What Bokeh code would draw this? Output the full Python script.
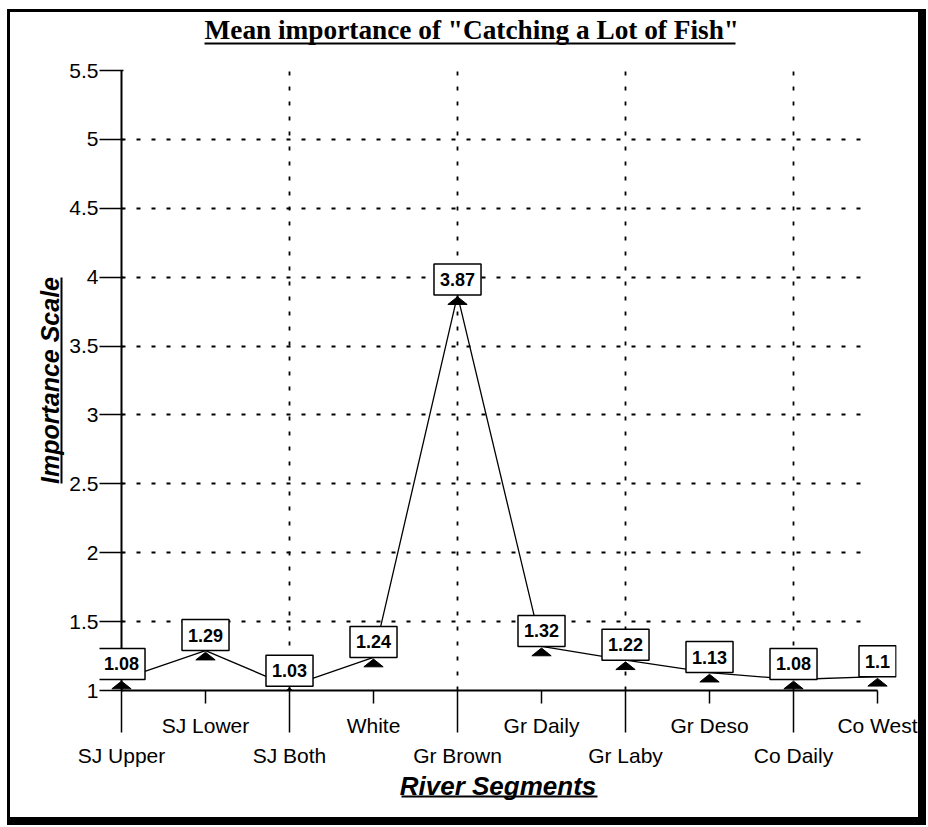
from bokeh.plotting import figure
from bokeh.models import (ColumnDataSource, FixedTicker, LinearAxis, Range1d,
                          Label, Grid, Span)
from bokeh.embed import file_html
from bokeh.resources import INLINE

# ---- data ----
segments = ["SJ Upper", "SJ Lower", "SJ Both", "White", "Gr Brown",
            "Gr Daily", "Gr Laby", "Gr Deso", "Co Daily", "Co West"]
importance = [1.08, 1.29, 1.03, 1.24, 3.87, 1.32, 1.22, 1.13, 1.08, 1.1]
y_ticks = [1, 1.5, 2, 2.5, 3, 3.5, 4, 4.5, 5, 5.5]
y_tick_labels = ["1", "1.5", "2", "2.5", "3", "3.5", "4", "4.5", "5", "5.5"]
title_text = 'Mean importance of "Catching a Lot of Fish"'
x_title = "River Segments"
y_title = "Importance Scale"

xpos = list(range(len(segments)))
labels = [f"{v:g}" for v in importance]

SANS = "Liberation Sans"
SERIF = "Liberation Serif"

p = figure(width=919, height=816,
           x_range=Range1d(-0.2619, 9.226), y_range=Range1d(1, 5.5),
           x_axis_type=None, y_axis_type=None,
           min_border_left=89, min_border_right=33,
           min_border_top=58, min_border_bottom=138,
           toolbar_location=None, output_backend="svg")
p.outline_line_color = None
p.background_fill_color = "white"
p.border_fill_color = "white"
p.styles = {"margin-left": "7px", "margin-top": "9px",
            "border-style": "solid", "border-color": "black",
            "border-width": "3px 8px 8px 3px"}

# title (underline drawn by a bare axis just below it)
p.title.text = title_text
p.title.text_font = SERIF
p.title.text_font_size = "27.3px"
p.title.text_font_style = "bold"
p.title.text_color = "black"
p.title.align = "left"
p.title.offset = 105
p.title.standoff = -3


def bare_axis(line=True, **kw):
    ax = LinearAxis(ticker=FixedTicker(ticks=[], minor_ticks=[]), **kw)
    ax.major_tick_line_color = None
    ax.minor_tick_line_color = None
    ax.major_tick_in = 0
    ax.major_tick_out = 0
    ax.minor_tick_in = 0
    ax.minor_tick_out = 0
    ax.axis_line_color = "black" if line else None
    ax.axis_line_width = 2
    ax.axis_label_text_color = "black"
    return ax


def spacer(px):
    ax = bare_axis(line=False, axis_label=" ")
    ax.axis_label_text_font_size = "1px"
    ax.axis_label_standoff = px - 1
    return ax


# grids (dotted)
vgrid = Grid(dimension=0, ticker=FixedTicker(ticks=xpos[2::2]),
             grid_line_color="black", grid_line_width=1.8, grid_line_dash="4 11")
hgrid = Grid(dimension=1, ticker=FixedTicker(ticks=y_ticks[1:]),
             grid_line_color="black", grid_line_width=1.8, grid_line_dash="4 11",
             cross_bounds=(0, 8.88))
p.add_layout(vgrid)
p.add_layout(hgrid)

# vertical axis line at the first category
p.add_layout(Span(location=xpos[0], dimension="height",
                  line_color="black", line_width=2))

# y axis ticks + labels
yaxis = LinearAxis(ticker=FixedTicker(ticks=y_ticks, minor_ticks=[]),
                   major_label_overrides={t: l for t, l in zip(y_ticks, y_tick_labels)})
yaxis.axis_line_color = None
yaxis.major_tick_line_width = 1.5
yaxis.major_tick_in = 24
yaxis.major_tick_out = 0
yaxis.minor_tick_line_color = None
yaxis.major_label_standoff = 1
yaxis.major_label_text_font = SANS
yaxis.major_label_text_font_size = "21px"
yaxis.major_label_text_color = "black"
p.add_layout(yaxis, "left")
p.add_layout(spacer(2), "left")
yl_ax = bare_axis(bounds=(2.5, 4.0), axis_label=y_title)
yl_ax.axis_label_text_font = SANS
yl_ax.axis_label_text_font_size = "25px"
yl_ax.axis_label_text_font_style = "bold italic"
yl_ax.axis_label_standoff = -2
p.add_layout(yl_ax, "left")

# x axis A: odd labels (upper row); short ticks for odd, long ticks for even
axA = LinearAxis(ticker=FixedTicker(ticks=xpos[1::2], minor_ticks=xpos[0::2]),
                 major_label_overrides={i: segments[i] for i in xpos[1::2]},
                 bounds=(xpos[0], xpos[-1]))
axA.axis_line_width = 2
axA.major_tick_in = 0
axA.major_tick_out = 13
axA.major_tick_line_width = 1.5
axA.minor_tick_in = 0
axA.minor_tick_out = 42
axA.minor_tick_line_width = 1.5
axA.minor_tick_line_color = "black"
axA.major_label_standoff = -19
axA.major_label_text_font = SANS
axA.major_label_text_font_size = "21px"
axA.major_label_text_color = "black"
p.add_layout(axA, "below")

# x axis B: even labels (lower row)
axB = LinearAxis(ticker=FixedTicker(ticks=xpos[0::2], minor_ticks=[]),
                 major_label_overrides={i: segments[i] for i in xpos[0::2]},
                 bounds=(xpos[0], xpos[-1]))
axB.axis_line_color = None
axB.major_tick_line_color = None
axB.minor_tick_line_color = None
axB.major_tick_in = 0
axB.major_tick_out = 0
axB.major_label_standoff = 4
axB.major_label_text_font = SANS
axB.major_label_text_font_size = "21px"
axB.major_label_text_color = "black"
p.add_layout(axB, "below")
p.add_layout(spacer(24), "below")
xl_ax = bare_axis(bounds=(3.33, 5.67), axis_label=x_title)
xl_ax.axis_label_text_font = SANS
xl_ax.axis_label_text_font_size = "26px"
xl_ax.axis_label_text_font_style = "bold italic"
xl_ax.axis_label_standoff = -26
p.add_layout(xl_ax, "below")

# title underline (spacer keeps it above the frame)
p.add_layout(spacer(24), "above")
p.add_layout(bare_axis(bounds=(0.988, 7.31)), "above")

# line
src = ColumnDataSource(dict(x=xpos, y=importance, label=labels))
p.line("x", "y", source=src, line_color="black", line_width=1.3)

# flat triangle markers (apex just below the value)
tri = ColumnDataSource(dict(
    xs=[[x - 0.115, x, x + 0.115] for x in xpos],
    ys=[[v - 0.068, v - 0.012, v - 0.068] for v in importance]))
p.patches("xs", "ys", source=tri, fill_color="black", line_color="black", line_width=1)

# boxed value labels
for x, v, t in zip(xpos, importance, labels):
    p.add_layout(Label(x=x, y=v, text=t, y_offset=0,
                       text_align="center", text_baseline="bottom",
                       text_font=SANS, text_font_size="18px", text_font_style="bold",
                       text_color="black", background_fill_color="white",
                       border_line_color="black", border_line_width=1.5,
                       padding=(6, 9)))

open("out.html", "w").write(file_html(p, INLINE))
